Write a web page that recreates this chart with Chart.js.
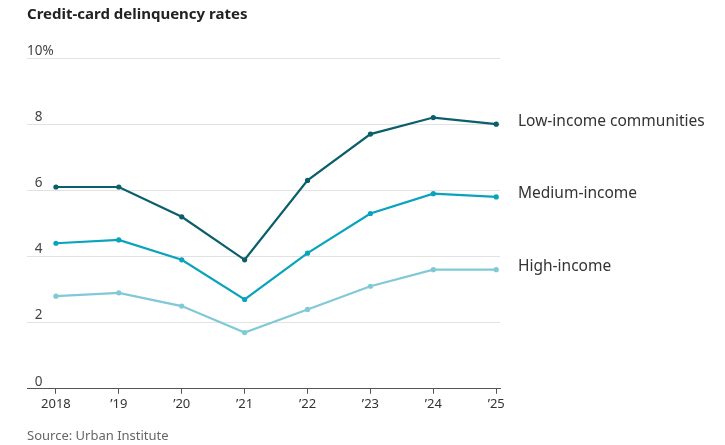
<!DOCTYPE html>
<html>
<head>
<meta charset="utf-8">
<script src="https://cdn.jsdelivr.net/npm/chart.js@4"></script>
<style>
html,body{margin:0;padding:0;background:#fff;}
#wrap{width:725px;height:445px;position:relative;}
</style>
</head>
<body>
<div id="wrap"><canvas id="c"></canvas></div>
<script>
const years = [2018, 2019, 2020, 2021, 2022, 2023, 2024, 2025];
const yearLabels = ['2018', '\u201919', '\u201920', '\u201921', '\u201922', '\u201923', '\u201924', '\u201925'];
const lowIncome = [6.1, 6.1, 5.2, 3.9, 6.3, 7.7, 8.2, 8.0];
const mediumIncome = [4.4, 4.5, 3.9, 2.7, 4.1, 5.3, 5.9, 5.8];
const highIncome = [2.8, 2.9, 2.5, 1.7, 2.4, 3.1, 3.6, 3.6];
const seriesNames = ['Low-income communities', 'Medium-income', 'High-income'];
const yTicks = [0, 2, 4, 6, 8, 10];

const FONT = "'Noto Sans', sans-serif";

const endLabels = {
  id: 'endLabels',
  afterDatasetsDraw(chart) {
    const ctx = chart.ctx;
    ctx.save();
    ctx.font = "15.5px " + FONT;
    ctx.fillStyle = '#333';
    ctx.textAlign = 'left';
    ctx.textBaseline = 'middle';
    chart.data.datasets.forEach((ds, i) => {
      const meta = chart.getDatasetMeta(i);
      const last = meta.data[meta.data.length - 1];
      ctx.fillText(ds.label, chart.chartArea.right + 18, last.y - 3);
    });
    ctx.restore();
  }
};

function pts(arr) { return years.map((y, i) => ({x: y, y: arr[i]})); }

new Chart(document.getElementById('c'), {
  type: 'line',
  data: {
    datasets: [
      {label: seriesNames[0], data: pts(lowIncome), borderColor: '#0a5f6b', backgroundColor: '#0a5f6b'},
      {label: seriesNames[1], data: pts(mediumIncome), borderColor: '#0aa3bd', backgroundColor: '#0aa3bd'},
      {label: seriesNames[2], data: pts(highIncome), borderColor: '#80c9d6', backgroundColor: '#80c9d6'}
    ]
  },
  options: {
    responsive: true,
    maintainAspectRatio: false,
    animation: false,
    devicePixelRatio: 1,
    layout: {padding: {left: 27, right: 225, top: 0, bottom: 0}},
    elements: {
      line: {borderWidth: 2.2, tension: 0},
      point: {radius: 2.6, borderWidth: 0, hoverRadius: 2.6}
    },
    plugins: {
      legend: {display: false},
      tooltip: {enabled: false},
      title: {
        display: true,
        text: 'Credit-card delinquency rates',
        align: 'start',
        color: '#222',
        font: {family: FONT, size: 15, weight: 'bold'},
        padding: {top: 6, bottom: 34}
      },
      subtitle: {
        display: true,
        position: 'bottom',
        text: 'Source: Urban Institute',
        align: 'start',
        color: '#666',
        font: {family: FONT, size: 13},
        padding: {top: 13, bottom: 1}
      }
    },
    scales: {
      x: {
        type: 'linear',
        min: 2017.54,
        max: 2025.06,
        afterBuildTicks(scale) { scale.ticks = years.map(v => ({value: v})); },
        ticks: {
          color: '#333',
          font: {family: FONT, size: 13},
          padding: 3,
          maxRotation: 0,
          autoSkip: false,
          callback(v) { const i = years.indexOf(v); return i >= 0 ? yearLabels[i] : ''; }
        },
        grid: {drawOnChartArea: false, drawTicks: true, tickLength: 5, color: '#555'},
        border: {display: true, color: '#555', width: 1}
      },
      y: {
        min: 0,
        max: 10,
        afterBuildTicks(scale) { scale.ticks = yTicks.map(v => ({value: v})); },
        ticks: {
          mirror: true,
          padding: 0,
          labelOffset: -7,
          color: '#444',
          font: {family: FONT, size: 13.5},
          callback(v) { return v === 10 ? '10%' : '\u2007' + v; }
        },
        grid: {color: '#e2e2e2', drawTicks: false, lineWidth: 1},
        border: {display: false}
      }
    }
  },
  plugins: [endLabels]
});
</script>
</body>
</html>
